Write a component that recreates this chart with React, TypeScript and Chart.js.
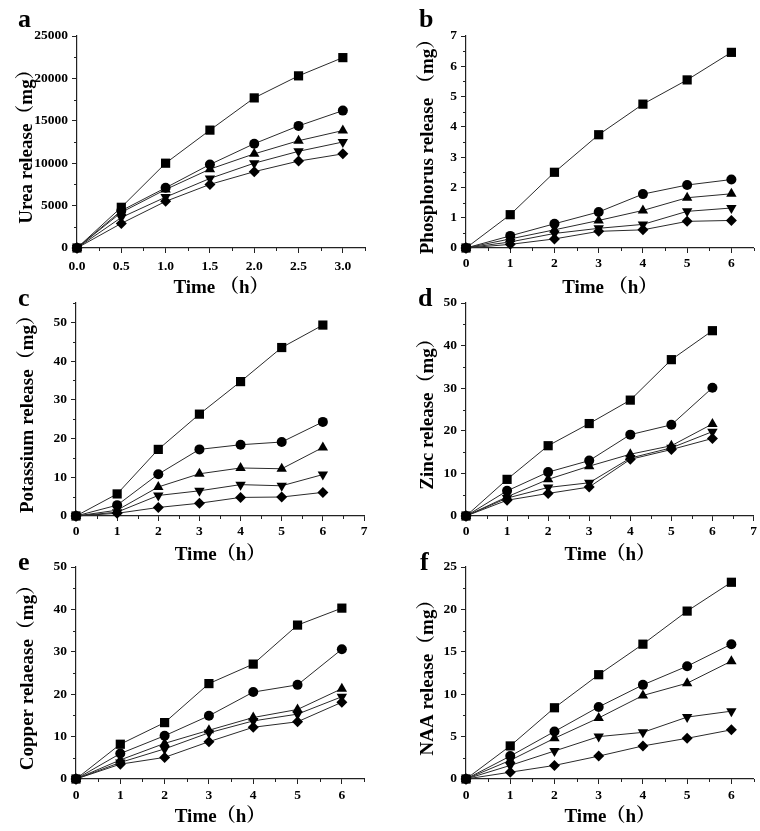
import React, { useEffect, useRef } from 'react';
import { Chart, registerables } from 'chart.js';

Chart.register(...registerables);

// ---------- data ----------
const timeUrea = [0, 0.5, 1, 1.5, 2, 2.5, 3];
const timeHours = [0, 1, 2, 3, 4, 5, 6];

const ureaS1 = [0, 4800, 10000, 13900, 17700, 20300, 22450];
const ureaS2 = [0, 4400, 7100, 9850, 12300, 14400, 16200];
const ureaS3 = [0, 4200, 6900, 9300, 11100, 12650, 13850];
const ureaS4 = [0, 3600, 6000, 8200, 10000, 11400, 12500];
const ureaS5 = [0, 2900, 5500, 7500, 9000, 10250, 11100];

const phosS1 = [0, 1.1, 2.5, 3.74, 4.75, 5.55, 6.46];
const phosS2 = [0, 0.4, 0.8, 1.19, 1.78, 2.08, 2.26];
const phosS3 = [0, 0.3, 0.6, 0.91, 1.24, 1.66, 1.79];
const phosS4 = [0, 0.2, 0.48, 0.65, 0.78, 1.21, 1.32];
const phosS5 = [0, 0.12, 0.3, 0.55, 0.6, 0.88, 0.91];

const potS1 = [0, 5.7, 17.2, 26.3, 34.7, 43.5, 49.3];
const potS2 = [0, 2.8, 10.8, 17.2, 18.4, 19.1, 24.3];
const potS3 = [0, 1.5, 7.5, 10.9, 12.4, 12.2, 17.7];
const potS4 = [0, 1.0, 5.3, 6.5, 8.1, 7.8, 10.7];
const potS5 = [0, 0.7, 2.2, 3.3, 4.8, 4.9, 6.1];

const zincS1 = [0, 8.6, 16.5, 21.7, 27.2, 36.7, 43.5];
const zincS2 = [0, 5.9, 10.3, 13.0, 19.1, 21.4, 30.1];
const zincS3 = [0, 4.5, 8.6, 11.7, 14.5, 16.5, 21.6];
const zincS4 = [0, 4.2, 6.7, 7.8, 13.6, 16.0, 19.8];
const zincS5 = [0, 3.7, 5.3, 6.8, 13.3, 15.6, 18.2];

const copS1 = [0, 8.2, 13.3, 22.5, 27.1, 36.3, 40.3];
const copS2 = [0, 6.0, 10.2, 14.9, 20.5, 22.2, 30.6];
const copS3 = [0, 4.5, 8.4, 11.5, 14.5, 16.4, 21.3];
const copS4 = [0, 3.9, 7.1, 10.9, 13.7, 15.3, 19.4];
const copS5 = [0, 3.5, 5.1, 8.8, 12.2, 13.5, 18.1];

const naaS1 = [0, 3.9, 8.4, 12.3, 15.9, 19.8, 23.2];
const naaS2 = [0, 2.7, 5.6, 8.5, 11.1, 13.3, 15.9];
const naaS3 = [0, 2.2, 4.8, 7.2, 9.85, 11.3, 13.9];
const naaS4 = [0, 1.6, 3.3, 5.0, 5.5, 7.3, 8.0];
const naaS5 = [0, 0.8, 1.6, 2.7, 3.9, 4.8, 5.8];

const xTicksUrea = [0, 0.5, 1, 1.5, 2, 2.5, 3];
const xTicks6 = [0, 1, 2, 3, 4, 5, 6];
const xTicks7 = [0, 1, 2, 3, 4, 5, 6, 7];
const yTicksUrea = [0, 5000, 10000, 15000, 20000, 25000];
const yTicksPhos = [0, 1, 2, 3, 4, 5, 6, 7];
const yTicks50 = [0, 10, 20, 30, 40, 50];
const yTicks25 = [0, 5, 10, 15, 20, 25];

// ---------- styles ----------
const W = 760;
const H = 831;
const SERIF = '"Times New Roman", "Liberation Serif", "Noto Serif CJK SC", "Noto Sans CJK SC", serif';
const AXIS = '#222';
const LINE = '#2a2a2a';
const MARK = '#000';
const STYLES = ['rect', 'circle', 'triangle', 'triangle', 'rectRot'];
const ROTS = [0, 0, 0, 180, 0];
const RADII = [6.5, 5, 6, 6, 5.5];
const Y_AXIS_W = 66;
const X_AXIS_H = 50;
const TITLE_SIZE = 19;

const panels = [
  {
    letter: 'a', letterX: 18, letterY: 27,
    box: { L: 77, R: 365, T: 36, B: 248 },
    times: timeUrea, series: [ureaS1, ureaS2, ureaS3, ureaS4, ureaS5],
    xMax: 3.25, xTicks: xTicksUrea, xMinorStep: 0.25, xFmt: (v) => v.toFixed(1),
    yMax: 25000, yTicks: yTicksUrea, yMinorStep: 2500,
    yTitle: 'Urea release（mg）', xTitle: 'Time （h）',
    yTitleX: 27, xTitleY: 288, xLabelPad: 5,
  },
  {
    letter: 'b', letterX: 419, letterY: 27,
    box: { L: 466, R: 754, T: 36, B: 248 },
    times: timeHours, series: [phosS1, phosS2, phosS3, phosS4, phosS5],
    xMax: 6.5, xTicks: xTicks6, xMinorStep: 0.5, xFmt: (v) => String(v),
    yMax: 7, yTicks: yTicksPhos, yMinorStep: 0.5,
    yTitle: 'Phosphorus release （mg）', xTitle: 'Time （h）',
    yTitleX: 428, xTitleY: 288, xLabelPad: 2,
  },
  {
    letter: 'c', letterX: 18, letterY: 306,
    box: { L: 76, R: 364, T: 303, B: 516 },
    times: timeHours, series: [potS1, potS2, potS3, potS4, potS5],
    xMax: 7, xTicks: xTicks7, xMinorStep: 0.5, xFmt: (v) => String(v),
    yMax: 55, yTicks: yTicks50, yMinorStep: 5,
    yTitle: 'Potassium release（mg）', xTitle: 'Time（h）',
    yTitleX: 28, xTitleY: 555, xLabelPad: 2,
  },
  {
    letter: 'd', letterX: 418, letterY: 306,
    box: { L: 466, R: 755, T: 303, B: 516 },
    times: timeHours, series: [zincS1, zincS2, zincS3, zincS4, zincS5],
    xMax: 7, xTicks: xTicks7, xMinorStep: 0.5, xFmt: (v) => String(v),
    yMax: 50, yTicks: yTicks50, yMinorStep: 5,
    yTitle: 'Zinc release（mg）', xTitle: 'Time（h）',
    yTitleX: 428, xTitleY: 555, xLabelPad: 2,
  },
  {
    letter: 'e', letterX: 18, letterY: 570,
    box: { L: 76, R: 364, T: 567, B: 779 },
    times: timeHours, series: [copS1, copS2, copS3, copS4, copS5],
    xMax: 6.5, xTicks: xTicks6, xMinorStep: 0.5, xFmt: (v) => String(v),
    yMax: 50, yTicks: yTicks50, yMinorStep: 5,
    yTitle: 'Copper relaease（mg）', xTitle: 'Time（h）',
    yTitleX: 28, xTitleY: 817, xLabelPad: 3,
  },
  {
    letter: 'f', letterX: 420, letterY: 570,
    box: { L: 466, R: 754, T: 567, B: 779 },
    times: timeHours, series: [naaS1, naaS2, naaS3, naaS4, naaS5],
    xMax: 6.5, xTicks: xTicks6, xMinorStep: 0.5, xFmt: (v) => String(v),
    yMax: 25, yTicks: yTicks25, yMinorStep: 2.5,
    yTitle: 'NAA release（mg）', xTitle: 'Time（h）',
    yTitleX: 428, xTitleY: 817, xLabelPad: 3,
  },
];

function minorValues(max, step, majors) {
  const out = [];
  const n = Math.round(max / step);
  for (let i = 0; i <= n; i++) {
    const v = +(i * step).toFixed(6);
    if (!majors.some((m) => Math.abs(m - v) < 1e-9)) out.push(v);
  }
  return out;
}

const decorPlugin = {
  id: 'decor',
  afterDraw(chart, _args, opts) {
    const ctx = chart.ctx;
    const xs = chart.scales.x;
    const ys = chart.scales.y;
    ctx.save();
    ctx.strokeStyle = AXIS;
    ctx.lineWidth = 1;
    ctx.beginPath();
    (opts.xMinor || []).forEach((v) => {
      const px = Math.round(xs.getPixelForValue(v)) + 0.5;
      ctx.moveTo(px, xs.top);
      ctx.lineTo(px, xs.top + 3);
    });
    (opts.yMinor || []).forEach((v) => {
      const py = Math.round(ys.getPixelForValue(v)) + 0.5;
      ctx.moveTo(ys.right, py);
      ctx.lineTo(ys.right - 3, py);
    });
    ctx.stroke();
    ctx.fillStyle = '#000';
    ctx.font = 'bold 26px ' + SERIF;
    ctx.textBaseline = 'alphabetic';
    ctx.textAlign = 'left';
    ctx.fillText(opts.letter, opts.letterX, opts.letterY);
    ctx.restore();
  },
};

function buildConfig(p) {
  const { L, R, T, B } = p.box;
  const tickFont = { family: SERIF, size: 13.5, weight: 'bold' };
  const titleFont = { family: SERIF, size: TITLE_SIZE, weight: 'bold', lineHeight: 1 };
  const half = TITLE_SIZE / 2;
  const grid = {
    display: true,
    drawOnChartArea: false,
    drawTicks: true,
    tickLength: 5,
    tickColor: AXIS,
    tickWidth: 1,
  };
  const border = { display: true, color: AXIS, width: 1.2 };
  const yLeft = L - Y_AXIS_W;
  return {
    type: 'line',
    data: {
      datasets: p.series.map((vals, i) => ({
        data: p.times.map((t, j) => ({ x: t, y: vals[j] })),
        borderColor: LINE,
        borderWidth: 1,
        backgroundColor: MARK,
        pointBackgroundColor: MARK,
        pointBorderColor: MARK,
        pointBorderWidth: 0,
        pointStyle: STYLES[i],
        pointRotation: ROTS[i],
        pointRadius: RADII[i],
        tension: 0,
        fill: false,
        clip: false,
      })),
    },
    options: {
      responsive: false,
      animation: false,
      devicePixelRatio: 1,
      events: [],
      layout: {
        padding: { left: yLeft, right: W - R, top: T, bottom: H - B - X_AXIS_H },
      },
      plugins: {
        legend: { display: false },
        tooltip: { enabled: false },
        title: { display: false },
        decor: {
          xMinor: minorValues(p.xMax, p.xMinorStep, p.xTicks),
          yMinor: minorValues(p.yMax, p.yMinorStep, p.yTicks),
          letter: p.letter,
          letterX: p.letterX,
          letterY: p.letterY,
        },
      },
      scales: {
        x: {
          type: 'linear',
          position: 'bottom',
          min: 0,
          max: p.xMax,
          afterBuildTicks: (s) => {
            s.ticks = p.xTicks.map((v) => ({ value: v }));
          },
          afterFit: (s) => {
            s.height = X_AXIS_H;
          },
          ticks: {
            autoSkip: false,
            maxRotation: 0,
            minRotation: 0,
            padding: p.xLabelPad,
            color: '#000',
            font: tickFont,
            callback: (v) => p.xFmt(Number(v)),
          },
          grid,
          border,
          title: {
            display: true,
            text: p.xTitle,
            color: '#000',
            font: titleFont,
            padding: { top: 0, bottom: Math.max(0, (B + X_AXIS_H) - p.xTitleY - half) },
          },
        },
        y: {
          type: 'linear',
          position: 'left',
          min: 0,
          max: p.yMax,
          afterBuildTicks: (s) => {
            s.ticks = p.yTicks.map((v) => ({ value: v }));
          },
          afterFit: (s) => {
            s.width = Y_AXIS_W;
          },
          ticks: {
            autoSkip: false,
            padding: 4,
            color: '#000',
            font: tickFont,
            callback: (v) => String(v),
          },
          grid,
          border,
          title: {
            display: true,
            text: p.yTitle,
            color: '#000',
            font: titleFont,
            padding: { top: Math.max(0, p.yTitleX - yLeft - half), bottom: 0 },
          },
        },
      },
    },
    plugins: [decorPlugin],
  };
}

function Panel({ cfg }) {
  const ref = useRef(null);
  useEffect(() => {
    const chart = new Chart(ref.current, buildConfig(cfg));
    return () => chart.destroy();
  }, [cfg]);
  return (
    <canvas
      ref={ref}
      width={W}
      height={H}
      style={{ position: 'absolute', left: 0, top: 0, width: W, height: H }}
    />
  );
}

export default function App() {
  return (
    <div
      style={{
        position: 'absolute',
        left: 0,
        top: 0,
        width: W,
        height: H,
        background: '#fff',
        overflow: 'hidden',
      }}
    >
      {panels.map((p) => (
        <Panel key={p.letter} cfg={p} />
      ))}
    </div>
  );
}
